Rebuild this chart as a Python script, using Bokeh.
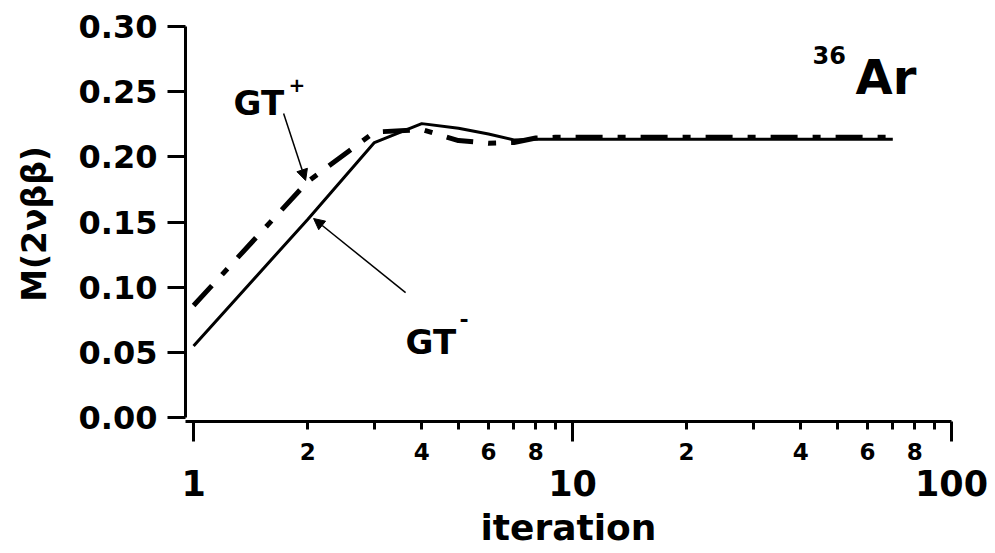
from bokeh.plotting import figure
from bokeh.models import (LogAxis, FixedTicker, Range1d, Label, Arrow,
                          NormalHead, PrintfTickFormatter)
from bokeh.embed import file_html
from bokeh.resources import INLINE

# ---- data ----
iterations = [1, 2, 3, 4, 5, 6, 7, 8, 9, 10, 20, 30, 40, 50, 60, 70]
gt_minus = [0.055, 0.152, 0.211, 0.2255, 0.222, 0.2175, 0.213, 0.2135, 0.2135,
            0.2135, 0.2135, 0.2135, 0.2135, 0.2135, 0.2135, 0.2135]
gt_plus = [0.086, 0.181, 0.219, 0.221, 0.2125, 0.2105, 0.211, 0.2145, 0.215,
           0.215, 0.215, 0.215, 0.215, 0.215, 0.215, 0.215]

y_ticks = [0.0, 0.05, 0.10, 0.15, 0.20, 0.25, 0.30]
x_major_ticks = [1, 10, 100]
x_major_labels = ["1", "10", "100"]
x_minor_labeled = [2, 4, 6, 8, 20, 40, 60, 80]
x_minor_labels = ["2", "4", "6", "8", "2", "4", "6", "8"]
x_minor_unlabeled = [3, 5, 7, 9, 30, 50, 70, 90]

# annotation anchors (data units)
gtp_text = (1.275, 0.241)
gtp_sup = (1.781, 0.2555)
gtp_arrow = (1.728, 0.2333, 1.975, 0.1819)
gtm_text = (3.626, 0.0583)
gtm_sup = (5.03, 0.0760)
gtm_arrow = (3.626, 0.0959, 2.073, 0.1527)
title_sup = (42.97, 0.2778)
title_main = (55.8, 0.2609)

FONT = "DejaVu Sans"

p = figure(width=995, height=553, x_axis_type="log",
           x_range=Range1d(0.952, 100), y_range=Range1d(-0.003, 0.30),
           output_backend="svg", toolbar_location=None,
           min_border_left=185, min_border_right=44,
           min_border_top=26, min_border_bottom=132)
p.xgrid.visible = False
p.ygrid.visible = False
p.outline_line_color = None
p.background_fill_color = "white"
p.border_fill_color = "white"

# ---- x axis A: tick marks + small labels ----
xa = p.xaxis[0]
xa.ticker = FixedTicker(ticks=sorted(x_minor_labeled + x_minor_unlabeled),
                        minor_ticks=x_major_ticks)
ov = {v: "" for v in x_minor_unlabeled}
ov.update({v: s for v, s in zip(x_minor_labeled, x_minor_labels)})
xa.major_label_overrides = ov
xa.axis_line_width = 3
xa.axis_line_color = "black"
xa.major_tick_out = 8
xa.major_tick_in = 0
xa.minor_tick_out = 20
xa.minor_tick_in = 0
xa.major_tick_line_width = 3
xa.minor_tick_line_width = 3
xa.major_label_text_font = FONT
xa.major_label_text_font_style = "bold"
xa.major_label_text_font_size = "23px"
xa.major_label_standoff = 1
xa.major_label_text_color = "black"

# ---- x axis B: decade labels + title ----
xb = LogAxis(ticker=FixedTicker(ticks=x_major_ticks, minor_ticks=[]))
xb.major_label_overrides = {v: s for v, s in zip(x_major_ticks, x_major_labels)}
xb.axis_line_color = None
xb.major_tick_line_color = None
xb.minor_tick_line_color = None
xb.major_tick_out = 0
xb.major_tick_in = 0
xb.major_label_standoff = 7
xb.major_label_text_font = FONT
xb.major_label_text_font_style = "bold"
xb.major_label_text_font_size = "35px"
xb.major_label_text_color = "black"
xb.axis_label = "iteration"
xb.axis_label_text_font = FONT
xb.axis_label_text_font_style = "bold"
xb.axis_label_text_font_size = "36px"
xb.axis_label_text_color = "black"
xb.axis_label_standoff = 8
p.add_layout(xb, "below")

# ---- y axis ----
ya = p.yaxis[0]
ya.ticker = FixedTicker(ticks=y_ticks, minor_ticks=[])
ya.formatter = PrintfTickFormatter(format="%.2f")
ya.bounds = (0, 0.30)
ya.axis_line_width = 3
ya.major_tick_out = 18
ya.major_tick_in = 0
ya.major_tick_line_width = 3
ya.major_label_text_font = FONT
ya.major_label_text_font_style = "bold"
ya.major_label_text_font_size = "32px"
ya.major_label_standoff = 10
ya.major_label_text_color = "black"
ya.axis_label = "M(2νββ)"
ya.axis_label_text_font = FONT
ya.axis_label_text_font_style = "bold"
ya.axis_label_text_font_size = "33px"
ya.axis_label_text_color = "black"
ya.axis_label_standoff = 22

# ---- series ----
p.line(iterations, gt_minus, line_color="black", line_width=3)
p.line(iterations, gt_plus, line_color="black", line_width=5,
       line_dash="27 15 8 15")

# ---- annotations ----
def lab(x, y, t, size):
    p.add_layout(Label(x=x, y=y, text=t, text_font=FONT,
                       text_font_style="bold", text_font_size=size,
                       text_color="black", text_baseline="alphabetic",
                       text_align="left"))

lab(gtp_text[0], gtp_text[1], "GT", "34px")
lab(gtp_sup[0], gtp_sup[1], "+", "20px")
lab(gtm_text[0], gtm_text[1], "GT", "34px")
lab(gtm_sup[0], gtm_sup[1], "-", "22px")
lab(title_sup[0], title_sup[1], "36", "24px")
lab(title_main[0], title_main[1], "Ar", "48px")

for (x0, y0, x1, y1) in (gtp_arrow, gtm_arrow):
    p.add_layout(Arrow(end=NormalHead(size=11, fill_color="black",
                                      line_color="black", line_width=1),
                       x_start=x0, y_start=y0, x_end=x1, y_end=y1,
                       line_width=1.5, line_color="black"))

open("out.html", "w").write(file_html(p, INLINE))
